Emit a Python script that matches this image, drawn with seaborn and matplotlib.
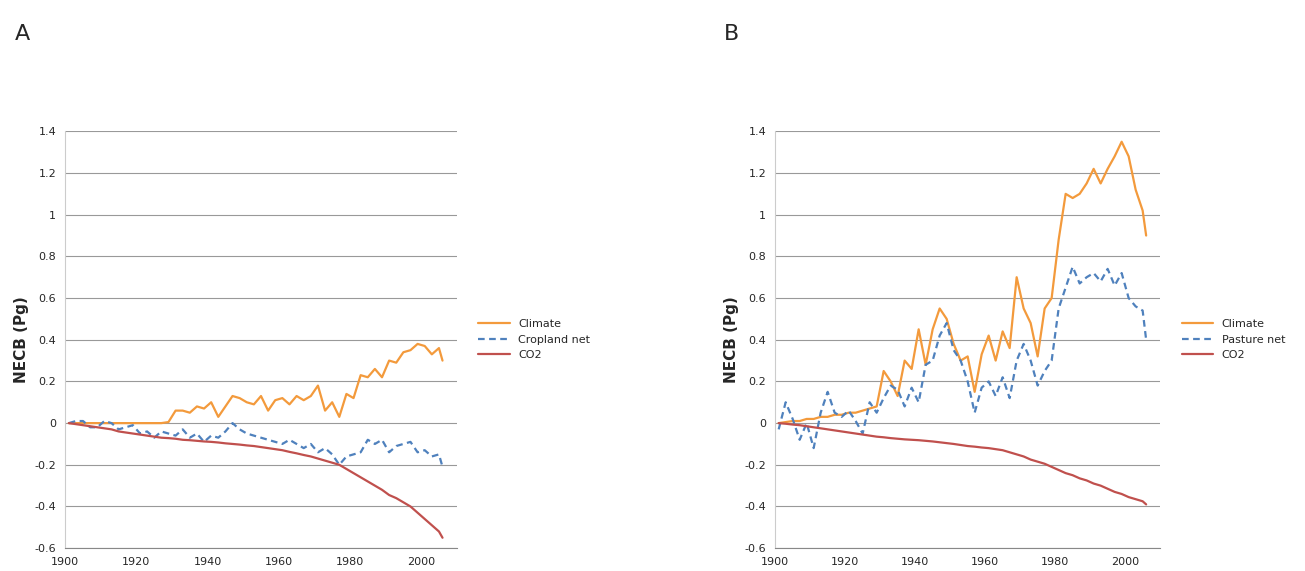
import numpy as np
import pandas as pd
import seaborn as sns
import matplotlib.pyplot as plt

years = list(range(1901, 2006, 2)) + [2006]

# panel A
a_climate = [0, 0, 0, 0, 0, 0, 0, 0, 0, 0, 0, 0, 0, 0, 0.005, 0.06, 0.06, 0.05, 0.08, 0.07,
             0.1, 0.03, 0.08, 0.13, 0.12, 0.1, 0.09, 0.13, 0.06, 0.11, 0.12, 0.09, 0.13, 0.11,
             0.13, 0.18, 0.06, 0.1, 0.03, 0.14, 0.12, 0.23, 0.22, 0.26, 0.22, 0.3, 0.29, 0.34,
             0.35, 0.38, 0.37, 0.33, 0.36, 0.3]
a_crop = [0, 0.01, 0.01, -0.02, -0.02, 0.01, 0.0, -0.03, -0.02, -0.01, -0.05, -0.04, -0.07,
          -0.04, -0.05, -0.06, -0.03, -0.07, -0.05, -0.09, -0.06, -0.07, -0.04, -0.0, -0.03,
          -0.05, -0.06, -0.07, -0.08, -0.09, -0.1, -0.08, -0.1, -0.12, -0.1, -0.14, -0.12,
          -0.15, -0.2, -0.16, -0.15, -0.14, -0.08, -0.1, -0.08, -0.14, -0.11, -0.1, -0.09,
          -0.14, -0.13, -0.16, -0.15, -0.21]
a_co2 = [0, -0.005, -0.01, -0.015, -0.02, -0.025, -0.03, -0.04, -0.045, -0.05, -0.055, -0.06,
         -0.065, -0.07, -0.072, -0.075, -0.08, -0.082, -0.085, -0.088, -0.09, -0.093, -0.097,
         -0.1, -0.103, -0.107, -0.11, -0.115, -0.12, -0.125, -0.13, -0.138, -0.145, -0.153,
         -0.16, -0.17, -0.18, -0.19, -0.2, -0.22, -0.24, -0.26, -0.28, -0.3, -0.32, -0.345,
         -0.36, -0.38, -0.4, -0.43, -0.46, -0.49, -0.52, -0.55]

# panel B
b_climate = [0, 0.005, 0.01, 0.01, 0.02, 0.02, 0.03, 0.03, 0.04, 0.04, 0.05, 0.05, 0.06,
             0.07, 0.08, 0.25, 0.2, 0.13, 0.3, 0.26, 0.45, 0.28, 0.45, 0.55, 0.5, 0.38, 0.3,
             0.32, 0.15, 0.33, 0.42, 0.3, 0.44, 0.36, 0.7, 0.55, 0.48, 0.32, 0.55, 0.6, 0.88,
             1.1, 1.08, 1.1, 1.15, 1.22, 1.15, 1.22, 1.28, 1.35, 1.28, 1.12, 1.02, 0.9]
b_pasture = [-0.03, 0.1, 0.02, -0.08, 0.0, -0.12, 0.05, 0.15, 0.05, 0.03, 0.06, 0.01, -0.05,
             0.1, 0.05, 0.12, 0.18, 0.16, 0.08, 0.17, 0.1, 0.28, 0.3, 0.42, 0.48, 0.35, 0.3,
             0.2, 0.05, 0.17, 0.2, 0.13, 0.22, 0.12, 0.3, 0.38, 0.3, 0.18, 0.25, 0.3, 0.55,
             0.65, 0.75, 0.67, 0.7, 0.72, 0.68, 0.74, 0.66, 0.72, 0.6, 0.56, 0.54, 0.4]
b_co2 = [0, -0.003, -0.007, -0.01, -0.015, -0.02, -0.025, -0.03, -0.035, -0.04, -0.045,
         -0.05, -0.055, -0.06, -0.065, -0.068, -0.072, -0.075, -0.078, -0.08, -0.082,
         -0.085, -0.088, -0.092, -0.096, -0.1, -0.105, -0.11, -0.113, -0.117, -0.12,
         -0.125, -0.13, -0.14, -0.15, -0.16, -0.175, -0.185, -0.195, -0.21, -0.225,
         -0.24, -0.25, -0.265, -0.275, -0.29, -0.3, -0.315, -0.33, -0.34, -0.355, -0.365,
         -0.375, -0.39]

palette = ["#F39A3C", "#4F81BD", "#C0504D"]


def panel(ax, label, series, names):
    df = pd.DataFrame({"year": years * 3,
                       "val": series[0] + series[1] + series[2],
                       "s": [names[0]] * len(years) + [names[1]] * len(years) + [names[2]] * len(years)})
    sns.lineplot(data=df, x="year", y="val", hue="s", style="s",
                 palette=palette, dashes=["", (3, 2), ""], linewidth=1.6, ax=ax)
    ax.set_ylim(-0.6, 1.4)
    ax.set_xlim(1900, 2010)
    ax.set_yticks(np.arange(-0.6, 1.41, 0.2))
    ax.set_yticklabels(["-0.6", "-0.4", "-0.2", "0", "0.2", "0.4", "0.6", "0.8", "1", "1.2", "1.4"])
    ax.set_xticks([1900, 1920, 1940, 1960, 1980, 2000])
    ax.tick_params(labelsize=8, length=3, color="#888888", left=False)
    ax.grid(axis="y", color="#999999", linewidth=0.8)
    ax.grid(axis="x", visible=False)
    for s in ["top", "right"]:
        ax.spines[s].set_visible(False)
    ax.spines["left"].set_color("#CCCCCC")
    ax.spines["bottom"].set_color("#888888")
    ax.set_xlabel("")
    ax.set_ylabel("NECB (Pg)", fontsize=11, fontweight="bold")
    ax.legend(loc="center left", bbox_to_anchor=(1.03, 0.5), frameon=False,
              fontsize=8, handlelength=2.8)
    ax.set_facecolor("white")


sns.set_style("white")
fig = plt.figure(figsize=(13.05, 5.71), dpi=100)
ax1 = fig.add_axes([0.05, 0.04, 0.30, 0.73])
ax2 = fig.add_axes([0.594, 0.04, 0.295, 0.73])
panel(ax1, "A", [a_climate, a_crop, a_co2], ["Climate", "Cropland net", "CO2"])
panel(ax2, "B", [b_climate, b_pasture, b_co2], ["Climate", "Pasture net", "CO2"])
fig.text(0.011, 0.93, "A", fontsize=16)
fig.text(0.555, 0.93, "B", fontsize=16)
fig.savefig("out.png", dpi=100)
